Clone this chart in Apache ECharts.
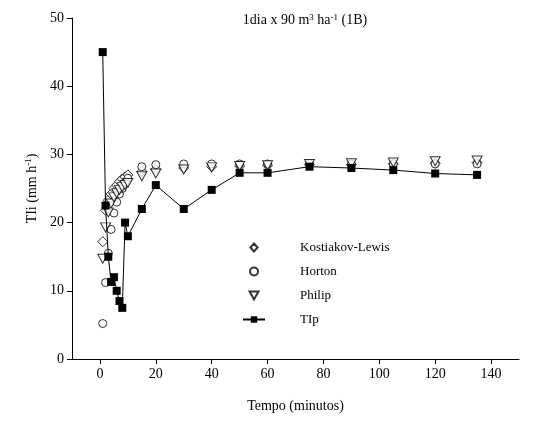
<!DOCTYPE html>
<html>
<head>
<meta charset="utf-8">
<script src="https://cdn.jsdelivr.net/npm/echarts@6/dist/echarts.min.js"></script>
<style>body{margin:0;background:#fff}#c{width:535px;height:423px}</style>
</head>
<body>
<div id="c"></div>
<script>
const tempo = [1, 2, 3, 4, 5, 6, 7, 8, 9, 10, 15, 20, 30, 40, 50, 60, 75, 90, 105, 120, 135];
const kostiakov = [17.2, 21.8, 23.3, 24.2, 25, 25.5, 26, 26.4, 26.7, 27, 27.5, 27.8, 28, 28.2, 28.3, 28.4, 28.5, 28.5, 28.6, 28.7, 28.8];
const horton = [5.2, 11.2, 15.5, 19, 21.4, 23, 24.2, 25, 25.8, 26.5, 28.2, 28.5, 28.6, 28.6, 28.6, 28.6, 28.6, 28.6, 28.6, 28.6, 28.6];
const philip = [14.7, 19.3, 21.5, 22.8, 23.7, 24.3, 24.8, 25.2, 25.5, 25.8, 26.8, 27.2, 27.8, 28.1, 28.3, 28.4, 28.6, 28.7, 28.8, 29, 29.1];
const tip = [45, 22.5, 15, 11.3, 12, 10, 8.5, 7.5, 20, 18, 22, 25.5, 22, 24.8, 27.3, 27.3, 28.2, 28, 27.7, 27.2, 27];
const xTicks = [0, 20, 40, 60, 80, 100, 120, 140];

const pair = arr => tempo.map((t, i) => [t, arr[i]]);
const font = 'Liberation Serif';
const triDown = 'path://M0,0 L10,0 L5,9 Z';

let chart = echarts.init(document.getElementById('c'));
let open = { color: '#fff', borderColor: '#000', borderWidth: 1 };
let sup = { fontSize: 9, verticalAlign: 'top', padding: [0, 0, 6, 0] };

chart.setOption({
  animation: false,
  textStyle: { fontFamily: font, color: '#000' },
  title: {
    text: '1dia x 90 m{sup|3} ha{sup|-1} (1B)',
    left: 300, top: 8, textAlign: 'center',
    textStyle: { fontFamily: font, fontSize: 14, fontWeight: 'normal', color: '#000', rich: { sup: sup } }
  },
  legend: {
    orient: 'vertical', left: 237, top: 236, itemGap: 11, itemWidth: 22, itemHeight: 8,
    textStyle: { fontFamily: font, fontSize: 13, color: '#000', padding: [0, 0, 0, 30] },
    data: [
      { name: 'Kostiakov-Lewis', icon: 'path://M0,5 L0,5.01 Z M11,0 L15.5,5 L11,10 L6.5,5 Z M22,5 L22,5.01 Z' },
      'Horton', 'Philip', 'TIp'
    ]
  },
  grid: { left: 72, right: 16, top: 18, bottom: 64 },
  xAxis: {
    type: 'value', min: -10, max: 150,
    name: 'Tempo (minutos)', nameLocation: 'middle', nameGap: 40,
    nameTextStyle: { fontFamily: font, fontSize: 14 },
    axisLine: { onZero: false, lineStyle: { color: '#000' } },
    axisTick: { customValues: xTicks, length: 5, lineStyle: { color: '#000' } },
    axisLabel: { customValues: xTicks, fontFamily: font, fontSize: 14, color: '#000' },
    splitLine: { show: false }
  },
  yAxis: {
    type: 'value', min: 0, max: 50, interval: 10,
    name: 'TIi (mm h{sup|-1})', nameLocation: 'middle', nameGap: 31,
    nameTextStyle: { fontFamily: font, fontSize: 14, rich: { sup: sup } },
    axisLine: { show: true, onZero: false, lineStyle: { color: '#000' } },
    axisTick: { show: true, length: 5, lineStyle: { color: '#000' } },
    axisLabel: { fontFamily: font, fontSize: 14, color: '#000' },
    splitLine: { show: false }
  },
  series: [
    { name: 'Kostiakov-Lewis', type: 'scatter', symbol: 'diamond', symbolSize: 10, itemStyle: open, data: pair(kostiakov) },
    { name: 'Horton', type: 'scatter', symbol: 'circle', symbolSize: 8, itemStyle: open, data: pair(horton) },
    { name: 'Philip', type: 'scatter', symbol: triDown, symbolSize: [10, 9], itemStyle: open, data: pair(philip) },
    { name: 'TIp', type: 'line', symbol: 'rect', symbolSize: 8, z: 5,
      lineStyle: { color: '#000', width: 1 }, itemStyle: { color: '#000' }, data: pair(tip) }
  ]
});
</script>
</body>
</html>
